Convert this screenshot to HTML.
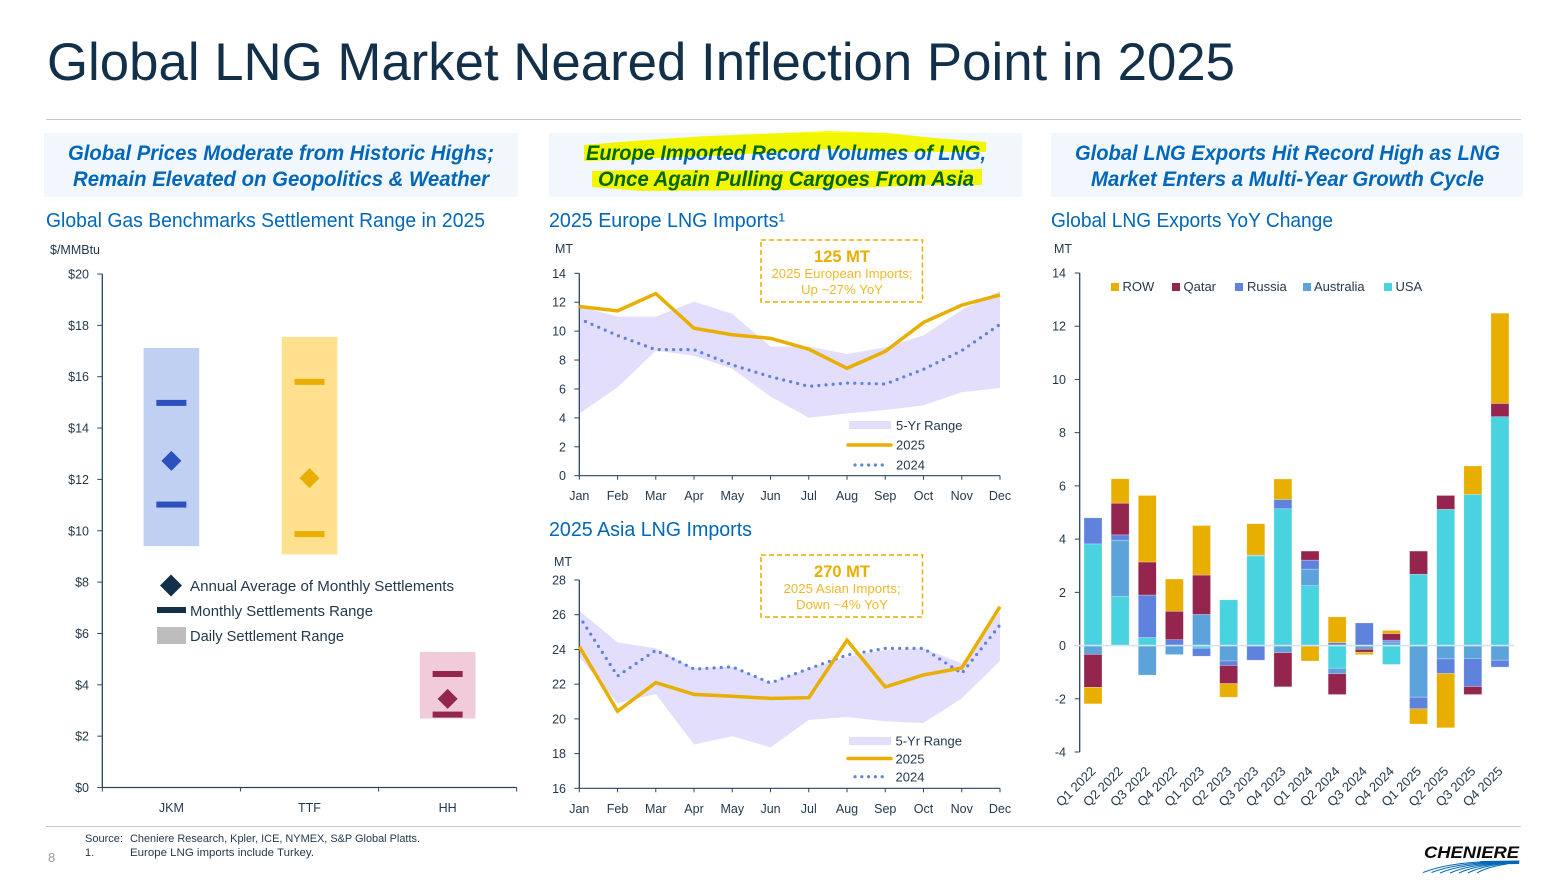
<!DOCTYPE html>
<html lang="en">
<head>
<meta charset="utf-8">
<title>Global LNG Market Neared Inflection Point in 2025</title>
<style>
html,body{margin:0;padding:0;background:#fff;}
svg{display:block;font-family:"Liberation Sans",Arial,sans-serif;}
.hd{font-size:21px;font-weight:bold;font-style:italic;fill:#0067B9;text-anchor:middle;}
.sub{font-size:20px;fill:#0067B9;}
.unit{font-size:12.5px;fill:#24394E;}
.leg{font-size:13px;fill:#24394E;}
.foot{font-size:11px;fill:#24394E;}
.co1{font-size:16.5px;font-weight:bold;fill:#E8AE00;text-anchor:middle;}
.co2{font-size:12.5px;fill:#EDB92B;text-anchor:middle;}
</style>
</head>
<body>
<svg id="slide" xmlns="http://www.w3.org/2000/svg" width="1565" height="883" viewBox="0 0 1565 883">
  <rect x="0" y="0" width="1565" height="883" fill="#fff"/>
  <text x="47" y="80" font-size="53" fill="#12304A" textLength="1188" lengthAdjust="spacingAndGlyphs">Global LNG Market Neared Inflection Point in 2025</text>
  <line x1="46" y1="119.5" x2="1521" y2="119.5" stroke="#C9C9C9"/>

  <rect x="44" y="133" width="474" height="64" fill="#F2F7FD"/>
  <rect x="549" y="133" width="473" height="64" fill="#F2F7FD"/>
  <rect x="1051" y="133" width="472" height="64" fill="#F2F7FD"/>

  <text class="hd" x="281" y="160" textLength="426" lengthAdjust="spacingAndGlyphs">Global Prices Moderate from Historic Highs;</text>
  <text class="hd" x="281" y="186" textLength="416" lengthAdjust="spacingAndGlyphs">Remain Elevated on Geopolitics &amp; Weather</text>
  <text class="hd" x="786" y="160" textLength="400" lengthAdjust="spacingAndGlyphs">Europe Imported Record Volumes of LNG,</text>
  <text class="hd" x="786" y="186" textLength="376" lengthAdjust="spacingAndGlyphs">Once Again Pulling Cargoes From Asia</text>
  <text class="hd" x="1287.5" y="160" textLength="425" lengthAdjust="spacingAndGlyphs">Global LNG Exports Hit Record High as LNG</text>
  <text class="hd" x="1287.5" y="186" textLength="393" lengthAdjust="spacingAndGlyphs">Market Enters a Multi-Year Growth Cycle</text>

  <polygon points="584,145 632,141 708,136 785,133 828,131 885,133 935,138 986,142 986,152 908,152 828,149 785,152 708,156 658,158 625,160 584,161" fill="#FFFF00" style="mix-blend-mode:multiply"/>
  <polygon points="592,171 642,170 708,170 785,171 885,171 982,169 982,185 928,185 852,188 785,190 642,191 592,187" fill="#FFFF00" style="mix-blend-mode:multiply"/>

  <text class="sub" x="46" y="227" textLength="439" lengthAdjust="spacingAndGlyphs">Global Gas Benchmarks Settlement Range in 2025</text>
  <text class="sub" x="549" y="227" textLength="236" lengthAdjust="spacingAndGlyphs">2025 Europe LNG Imports¹</text>
  <text class="sub" x="549" y="536" textLength="203" lengthAdjust="spacingAndGlyphs">2025 Asia LNG Imports</text>
  <text class="sub" x="1051" y="227" textLength="282" lengthAdjust="spacingAndGlyphs">Global LNG Exports YoY Change</text>

  <text class="unit" x="50" y="254">$/MMBtu</text>
  <text class="unit" x="555" y="253">MT</text>
  <text class="unit" x="554" y="566">MT</text>
  <text class="unit" x="1054" y="253">MT</text>

  <g id="benchmarks"></g>
  <g id="europe"></g>
  <g id="asia"></g>
  <g id="exports"></g>

  <g>
    <polygon points="171,574.5 182,585.5 171,596.5 160,585.5" fill="#12304A"/>
    <text x="190" y="591" font-size="14.5" fill="#24394E" textLength="264" lengthAdjust="spacingAndGlyphs">Annual Average of Monthly Settlements</text>
    <rect x="157" y="607" width="29" height="6" fill="#12304A"/>
    <text x="190" y="616" font-size="14.5" fill="#24394E" textLength="183" lengthAdjust="spacingAndGlyphs">Monthly Settlements Range</text>
    <rect x="157" y="627" width="29" height="17" fill="#BDBDBD"/>
    <text x="190" y="641" font-size="14.5" fill="#24394E" textLength="154" lengthAdjust="spacingAndGlyphs">Daily Settlement Range</text>
  </g>

  <g>
    <rect x="761" y="240" width="161.5" height="62" fill="none" stroke="#E8AE00" stroke-width="1.5" stroke-dasharray="5 3"/>
    <text class="co1" x="842" y="262">125 MT</text>
    <text class="co2" x="842" y="278" textLength="141" lengthAdjust="spacingAndGlyphs">2025 European Imports;</text>
    <text class="co2" x="842" y="294" textLength="82" lengthAdjust="spacingAndGlyphs">Up ~27% YoY</text>
  </g>
  <g>
    <rect x="761" y="555" width="161.5" height="62" fill="none" stroke="#E8AE00" stroke-width="1.5" stroke-dasharray="5 3"/>
    <text class="co1" x="842" y="577">270 MT</text>
    <text class="co2" x="842" y="593" textLength="117" lengthAdjust="spacingAndGlyphs">2025 Asian Imports;</text>
    <text class="co2" x="842" y="609" textLength="92" lengthAdjust="spacingAndGlyphs">Down ~4% YoY</text>
  </g>

  <g>
    <rect x="849" y="421" width="42" height="8" fill="#E2DEFB"/>
    <text class="leg" x="896" y="430">5-Yr Range</text>
    <line x1="848" y1="445" x2="891" y2="445" stroke="#E8AE00" stroke-width="3.5" stroke-linecap="round"/>
    <text class="leg" x="896" y="449.5">2025</text>
    <line x1="855" y1="465" x2="889" y2="465" stroke="#5F83DC" stroke-width="3.2" stroke-linecap="round" stroke-dasharray="0 6.8"/>
    <text class="leg" x="896" y="469.5">2024</text>
  </g>
  <g>
    <rect x="849" y="737" width="42" height="8" fill="#E2DEFB"/>
    <text class="leg" x="895.5" y="745.5">5-Yr Range</text>
    <line x1="848" y1="758.5" x2="891" y2="758.5" stroke="#E8AE00" stroke-width="3.5" stroke-linecap="round"/>
    <text class="leg" x="895.5" y="763.5">2025</text>
    <line x1="855" y1="776.7" x2="889" y2="776.7" stroke="#5F83DC" stroke-width="3.2" stroke-linecap="round" stroke-dasharray="0 6.8"/>
    <text class="leg" x="895.5" y="781.5">2024</text>
  </g>

  <g>
    <rect x="1111" y="283" width="8" height="8" fill="#E8AE00"/>
    <text class="leg" x="1122.5" y="291">ROW</text>
    <rect x="1172" y="283" width="8" height="8" fill="#93254F"/>
    <text class="leg" x="1183.5" y="291">Qatar</text>
    <rect x="1235" y="283" width="8" height="8" fill="#5F83DC"/>
    <text class="leg" x="1247" y="291">Russia</text>
    <rect x="1303" y="283" width="8" height="8" fill="#5CA3DC"/>
    <text class="leg" x="1314" y="291">Australia</text>
    <rect x="1384" y="283" width="8" height="8" fill="#49D3E0"/>
    <text class="leg" x="1395.5" y="291">USA</text>
  </g>

  <line x1="46" y1="826.5" x2="1521" y2="826.5" stroke="#C9C9C9"/>
  <text class="foot" x="85" y="842">Source:</text>
  <text class="foot" x="130" y="842" textLength="290" lengthAdjust="spacingAndGlyphs">Cheniere Research, Kpler, ICE, NYMEX, S&amp;P Global Platts.</text>
  <text class="foot" x="85" y="856">1.</text>
  <text class="foot" x="130" y="856" textLength="184" lengthAdjust="spacingAndGlyphs">Europe LNG imports include Turkey.</text>
  <text x="48" y="862" font-size="13" fill="#9A9A9A">8</text>

  <g>
    <text x="1424" y="858" font-size="17" font-weight="bold" font-style="italic" fill="#0B0B0B" textLength="95" lengthAdjust="spacingAndGlyphs">CHENIERE</text>
    <g fill="none" stroke="#0067B9" stroke-width="1">
      <path d="M1423,872.5 Q1450,862 1495,861.5"/>
      <path d="M1431.5,872.5 Q1455,863.5 1497,862"/>
      <path d="M1440,873 Q1460,864.5 1499,862.5"/>
      <path d="M1450,873 Q1468,865 1501,863"/>
      <path d="M1459,873 Q1474,866 1503,863"/>
      <path d="M1468,873 Q1480,866.5 1505,863.5"/>
      <path d="M1477,873 Q1487,867 1507,864"/>
    </g>
    <polygon points="1480,861 1519.5,860.5 1519,864 1486,864.5" fill="#0067B9"/>
  </g>
</svg>

<script>
/* ---------- Benchmarks chart data ---------- */
const benchCategories = ['JKM', 'TTF', 'HH'];
const benchDailyLow = [9.4, 9.08, 2.69];
const benchDailyHigh = [17.12, 17.55, 5.28];
const benchMonthlyLow = [11.02, 9.87, 2.84];
const benchMonthlyHigh = [14.98, 15.8, 4.42];
const benchAverage = [12.72, 12.05, 3.45];
const benchTicks = [0, 2, 4, 6, 8, 10, 12, 14, 16, 18, 20];

/* ---------- Europe chart data ---------- */
const months = ['Jan', 'Feb', 'Mar', 'Apr', 'May', 'Jun', 'Jul', 'Aug', 'Sep', 'Oct', 'Nov', 'Dec'];
const europeTicks = [0, 2, 4, 6, 8, 10, 12, 14];
const europe2025 = [11.7, 11.4, 12.6, 10.2, 9.75, 9.5, 8.75, 7.43, 8.6, 10.6, 11.8, 12.5];
const europe2024 = [10.85, 9.7, 8.72, 8.72, 7.66, 6.85, 6.18, 6.41, 6.34, 7.36, 8.65, 10.47];
const europeRangeHigh = [11.7, 11.0, 11.0, 12.04, 11.19, 8.93, 8.93, 8.42, 8.88, 9.71, 11.46, 12.78];
const europeRangeLow = [4.29, 6.11, 8.65, 8.3, 7.4, 5.47, 4.01, 4.31, 4.54, 4.87, 5.77, 6.07];

/* ---------- Asia chart data ---------- */
const asiaTicks = [16, 18, 20, 22, 24, 26, 28];
const asia2025 = [24.16, 20.44, 22.09, 21.41, 21.3, 21.18, 21.22, 24.53, 21.84, 22.53, 22.93, 26.46];
const asia2024 = [25.9, 22.47, 23.95, 22.87, 23.0, 22.07, 22.89, 23.68, 24.06, 24.06, 22.62, 25.41];
const asiaRangeHigh = [26.23, 24.41, 24.06, 22.91, 23.0, 22.07, 22.89, 23.58, 23.97, 24.06, 23.2, 26.18];
const asiaRangeLow = [23.58, 20.9, 21.43, 18.52, 19.0, 18.36, 19.94, 20.11, 19.86, 19.76, 21.18, 23.35];

/* ---------- Exports chart data ---------- */
const quarters = ['Q1 2022', 'Q2 2022', 'Q3 2022', 'Q4 2022', 'Q1 2023', 'Q2 2023', 'Q3 2023', 'Q4 2023', 'Q1 2024', 'Q2 2024', 'Q3 2024', 'Q4 2024', 'Q1 2025', 'Q2 2025', 'Q3 2025', 'Q4 2025'];
const exportTicks = [-4, -2, 0, 2, 4, 6, 8, 10, 12, 14];
const exportsUSA = [3.82, 1.84, 0.3, 0, -0.1, 1.72, 3.37, 5.14, 2.25, -0.85, 0, -0.71, 2.68, 5.12, 5.68, 8.6];
const exportsAustralia = [-0.33, 2.12, -1.11, -0.34, 1.17, -0.58, 0.03, -0.27, 0.62, -0.21, -0.14, 0.13, -1.94, -0.5, -0.48, -0.55];
const exportsRussia = [0.98, 0.2, 1.6, 0.22, -0.3, -0.17, -0.55, 0.35, 0.34, 0.11, 0.85, 0.07, -0.44, -0.55, -1.06, -0.26];
const exportsQatar = [-1.24, 1.19, 1.24, 1.07, 1.48, -0.68, 0, -1.28, 0.34, -0.78, -0.11, 0.25, 0.87, 0.52, -0.3, 0.5];
const exportsROW = [-0.62, 0.92, 2.5, 1.21, 1.86, -0.51, 1.18, 0.77, -0.58, 0.97, -0.09, 0.12, -0.57, -2.04, 1.07, 3.39];

const NS = 'http://www.w3.org/2000/svg';
const AXIS = '#2A4560';
const TICKTEXT = '#24394E';
function mk(parent, tag, props, content) {
  const e = document.createElementNS(NS, tag);
  for (const k in props) e.setAttribute(k, props[k]);
  if (content !== undefined) e.textContent = content;
  parent.appendChild(e);
  return e;
}
function linear(d0, d1, r0, r1) {
  return v => r0 + (v - d0) * (r1 - r0) / (d1 - d0);
}
function pts(xs, ys) {
  return xs.map((v, i) => xs[i].toFixed(2) + ',' + ys[i].toFixed(2)).join(' ');
}
function slug(s) {
  return String(s).toLowerCase().replace(/[^a-z0-9]+/g, '-').replace(/^-|-$/g, '');
}

function yAxis(g, prefix, ticks, y, x0, labelX, fmt) {
  const axis = mk(g, 'line', {x1: x0, x2: x0, y1: y(ticks[ticks.length - 1]), y2: y(ticks[0]), stroke: AXIS, 'stroke-width': 1.3});
  
  
  ticks.forEach(t => {
    const tk = mk(g, 'line', {x1: x0 - 5, x2: x0, y1: y(t), y2: y(t), stroke: AXIS, 'stroke-width': 1});
    
    
    const lb = mk(g, 'text', {x: labelX, y: y(t) + 4.5, 'font-size': 12.5, fill: TICKTEXT, 'text-anchor': 'end'}, fmt(t));
    
    
  });
}

/* ---------- Benchmarks ---------- */
(function () {
  const g = document.getElementById('benchmarks');
  const y = linear(0, 20, 787.5, 274);
  const left = 102.3, right = 516.7;
  const band = (right - left) / benchCategories.length;
  const cx = i => left + band * (i + 0.5);
  const boxColors = ['#BFD0F2', '#FFE08F', '#F1CBDA'];
  const markColors = ['#2C50BE', '#E8AE00', '#93254F'];
  yAxis(g, 'benchmarks', benchTicks, y, left, 89, t => '$' + t);
  const xa = mk(g, 'line', {x1: left, x2: right, y1: y(0), y2: y(0), stroke: AXIS, 'stroke-width': 1.2});
  
  
  for (let i = 0; i <= benchCategories.length; i++) {
    const tk = mk(g, 'line', {x1: left + band * i, x2: left + band * i, y1: y(0), y2: y(0) + 4, stroke: AXIS});
    
    
  }
  benchCategories.forEach((c, i) => {
    const s = slug(c);
    const box = mk(g, 'rect', {x: cx(i) - 27.8, width: 55.6, y: y(benchDailyHigh[i]), height: y(benchDailyLow[i]) - y(benchDailyHigh[i]), fill: boxColors[i]});
    
    
    const hi = mk(g, 'rect', {x: cx(i) - 15, width: 30, y: y(benchMonthlyHigh[i]) - 3, height: 6, fill: markColors[i]});
    
    
    const lo = mk(g, 'rect', {x: cx(i) - 15, width: 30, y: y(benchMonthlyLow[i]) - 3, height: 6, fill: markColors[i]});
    
    
    const ay = y(benchAverage[i]);
    const d = mk(g, 'polygon', {points: `${cx(i)},${ay - 10} ${cx(i) + 10},${ay} ${cx(i)},${ay + 10} ${cx(i) - 10},${ay}`, fill: markColors[i]});
    
    
    const t = mk(g, 'text', {x: cx(i), y: 812, 'font-size': 12.5, fill: TICKTEXT, 'text-anchor': 'middle'}, c);
    
    
  });
})();

/* ---------- Monthly line charts ---------- */
function lineChart(id, prefix, ticks, s2025, s2024, hiR, loR, yTop, yBottom, labelY) {
  const g = document.getElementById(id);
  const x0 = 579.3, x1 = 1000;
  const x = linear(0, months.length - 1, x0, x1);
  const y = linear(ticks[0], ticks[ticks.length - 1], yBottom, yTop);
  const xs = months.map((m, i) => x(i));
  const rangeXs = xs.concat(xs.slice().reverse());
  const rangeYs = hiR.map(y).concat(loR.map(y).reverse());
  const area = mk(g, 'polygon', {points: pts(rangeXs, rangeYs), fill: '#E2DEFB'});
  
  
  yAxis(g, prefix, ticks, y, x0, 566, t => String(t));
  const xa = mk(g, 'line', {x1: x0, x2: x1, y1: yBottom, y2: yBottom, stroke: AXIS, 'stroke-width': 1.2});
  
  
  months.forEach((m, i) => {
    const tk = mk(g, 'line', {x1: x(i), x2: x(i), y1: yBottom, y2: yBottom + 4, stroke: AXIS});
    
    
    const t = mk(g, 'text', {x: x(i), y: labelY, 'font-size': 12.5, fill: TICKTEXT, 'text-anchor': 'middle'}, m);
    
    
  });
  const l24 = mk(g, 'polyline', {points: pts(xs, s2024.map(y)), fill: 'none', stroke: '#5F83DC', 'stroke-width': 3.2, 'stroke-linecap': 'round', 'stroke-dasharray': '0 7.2', 'stroke-dashoffset': 0.5});
  
  
  const l25 = mk(g, 'polyline', {points: pts(xs, s2025.map(y)), fill: 'none', stroke: '#E8AE00', 'stroke-width': 3.5, 'stroke-linejoin': 'miter'});
  
  
}
lineChart('europe', 'europe', europeTicks, europe2025, europe2024, europeRangeHigh, europeRangeLow, 273.3, 475.7, 500);
lineChart('asia', 'asia', asiaTicks, asia2025, asia2024, asiaRangeHigh, asiaRangeLow, 580, 788.3, 813);

/* ---------- Exports stacked bars ---------- */
(function () {
  const g = document.getElementById('exports');
  const y = linear(-4, 14, 752, 273);
  const step = 27.13, first = 1093, barW = 18;
  const x = i => first + step * i;
  yAxis(g, 'exports', exportTicks, y, 1079.7, 1066, t => String(t));
  const stack = [
    ['usa', exportsUSA, '#49D3E0'],
    ['australia', exportsAustralia, '#5CA3DC'],
    ['russia', exportsRussia, '#5F83DC'],
    ['qatar', exportsQatar, '#93254F'],
    ['row', exportsROW, '#E8AE00']
  ];
  quarters.forEach((q, i) => {
    let pos = 0, neg = 0;
    stack.forEach(s => {
      const v = s[1][i];
      if (!v) return;
      const a = v > 0 ? pos : neg;
      const b = a + v;
      if (v > 0) pos = b; else neg = b;
      const top = y(Math.max(a, b));
      const bar = mk(g, 'rect', {x: x(i) - barW / 2, width: barW, y: top, height: Math.abs(y(a) - y(b)), fill: s[2], stroke: 'rgba(255,255,255,0.45)', 'stroke-width': 0.6});
      
      
    });
    const ex = x(i) + 3.5, ey = 772;
    const t = mk(g, 'text', {x: ex, y: ey, 'font-size': 13, fill: TICKTEXT, 'text-anchor': 'end', transform: `rotate(-45 ${ex} ${ey})`}, q);
    
    
  });
  const zero = mk(g, 'line', {x1: 1075, x2: 1514, y1: y(0), y2: y(0), stroke: '#D3E3F3', 'stroke-width': 1.7});
  
  
})();
</script>
</body>
</html>
